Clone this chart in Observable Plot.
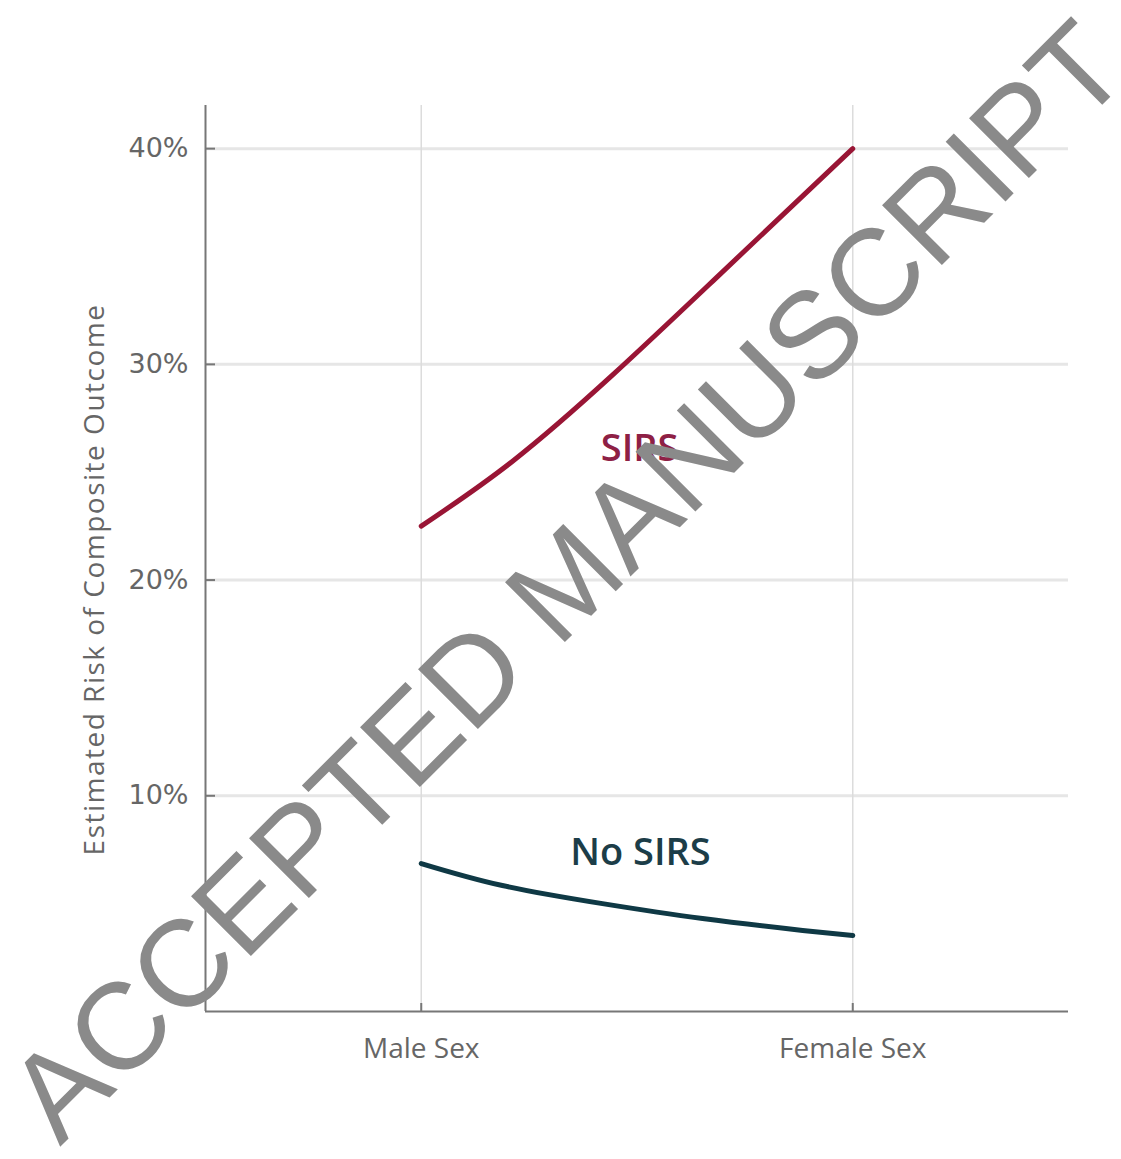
<!DOCTYPE html>
<html>
<head>
<meta charset="utf-8">
<script src="https://cdn.jsdelivr.net/npm/d3@7"></script>
<script src="https://cdn.jsdelivr.net/npm/@observablehq/plot@0.6"></script>
<style>
  html, body { margin: 0; padding: 0; background: #fff; }
  #chart { width: 1121px; height: 1159px; }
</style>
</head>
<body>
<div id="chart"></div>
<script>
// x positions: 0 = Male Sex, 1 = Female Sex
const xTicks = [0, 1];
const xLabels = ["Male Sex", "Female Sex"];
const yTicks = [10, 20, 30, 40];

// (percent)
const sirsX = [0, 0.211, 0.443, 0.683, 1];
const sirsY = [22.5, 25.5, 29.5, 34.0, 40.0];
const noSirsX = [0, 0.188, 0.42, 0.652, 0.884, 1];
const noSirsY = [6.86, 5.84, 5.0, 4.31, 3.76, 3.52];

const seriesLabels = ["SIRS", "No SIRS"];
const labelX = [0.506, 0.508];
const labelY = [26.1, 7.37];
const seriesColors = ["#991535", "#0f3945"];
const labelColors = ["#8e2045", "#1c3d48"];

const yTitle = "Estimated Risk of Composite Outcome";
const watermarkWords = ["ACCEPTED", "MANUSCRIPT"];

const sirs = sirsX.map((x, i) => ({x, y: sirsY[i]}));
const noSirs = noSirsX.map((x, i) => ({x, y: noSirsY[i]}));
const labels = seriesLabels.map((t, i) => ({t, x: labelX[i], y: labelY[i], c: labelColors[i]}));

const plot = Plot.plot({
  width: 1121,
  height: 1159,
  marginLeft: 205,
  marginRight: 53,
  marginTop: 105,
  marginBottom: 148,
  x: {domain: [-0.5, 1.5]},
  y: {domain: [0, 42]},
  style: {fontFamily: "'Open Sans', sans-serif", background: "#fff", overflow: "visible"},
  marks: [
    Plot.gridY(yTicks, {stroke: "#e6e6e6", strokeOpacity: 1, strokeWidth: 3}),
    Plot.gridX(xTicks, {stroke: "#dcdcdc", strokeOpacity: 1, strokeWidth: 1.5}),
    Plot.ruleX([-0.5], {stroke: "#777", strokeWidth: 2}),
    Plot.ruleY([0], {stroke: "#777", strokeWidth: 2}),
    Plot.axisY(yTicks, {
      tickSize: -10, tickPadding: 27, tickFormat: d => d + "%",
      fontSize: 27, fontFamily: "'DejaVu Sans', sans-serif", color: "#666",
      stroke: "#777", strokeWidth: 2, label: null
    }),
    Plot.axisX(xTicks, {
      tickSize: -8, tickPadding: 35, tickFormat: d => xLabels[xTicks.indexOf(d)],
      fontSize: 28, color: "#666", stroke: "#777", strokeWidth: 2, label: null
    }),
    Plot.text([yTitle], {
      frameAnchor: "left", dx: -110, dy: 21, rotate: -90,
      fontSize: 28, fill: "#666",
      textAnchor: "middle", lineAnchor: "middle"
    }),
    Plot.line(sirs, {x: "x", y: "y", stroke: seriesColors[0], strokeWidth: 5, curve: "natural"}),
    Plot.line(noSirs, {x: "x", y: "y", stroke: seriesColors[1], strokeWidth: 5, curve: "natural"}),
    Plot.text(labels, {
      x: "x", y: "y", text: "t", fill: "c",
      fontSize: 38, fontWeight: 600, textAnchor: "middle", lineAnchor: "middle"
    })
  ]
});

document.getElementById("chart").appendChild(plot);

// widen the axis title a little, as in the reference font
d3.select(plot).selectAll("text")
  .filter(function() { return this.textContent === yTitle; })
  .attr("letter-spacing", "1.5px");

// watermark: baseline from (60,1147) at -45 degrees
const wmSize = 123;
const wm = d3.select(plot).append("g")
  .attr("transform", "translate(60,1147) rotate(-45)")
  .attr("font-family", "'Liberation Sans', Arial, sans-serif")
  .attr("font-size", wmSize)
  .attr("text-anchor", "start")
  .attr("fill", "#8a8a8a");
const first = wm.append("text").attr("x", 0).attr("y", 0).text(watermarkWords[0]);
const spaceW = wmSize * 0.278;
const firstW = first.node().getComputedTextLength();
wm.append("text").attr("x", firstW + spaceW).attr("y", 0).text(watermarkWords[1]);
</script>
</body>
</html>
